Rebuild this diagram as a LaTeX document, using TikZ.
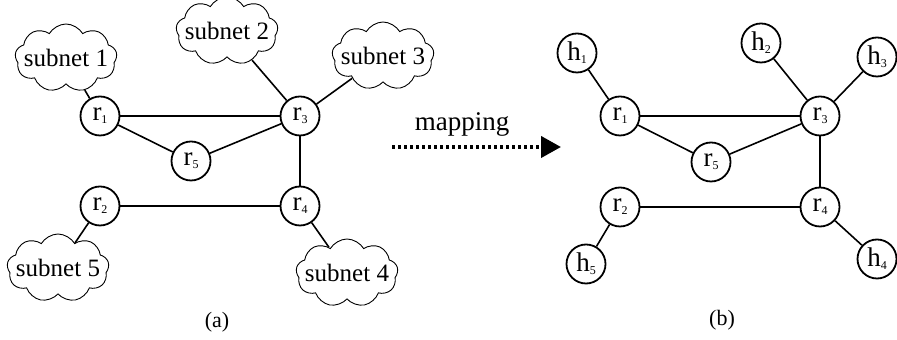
\documentclass[tikz,border=0pt]{standalone}
\usepackage{fontspec}
\setmainfont{Liberation Serif}
\usetikzlibrary{shapes.symbols,arrows.meta}

\newcommand{\lbl}[2]{#1{\fontsize{6}{6}\selectfont\raisebox{-0.5ex}{#2}}}
\newcommand{\cloudtext}[1]{\makebox[0pt]{#1}}

\tikzset{
  router/.style={circle, draw, line width=0.9pt, minimum size=19.5pt, inner sep=0pt,
    font=\fontsize{13.5}{13.5}\selectfont},
  subnetcloud/.style={cloud, draw, line width=0.45pt, cloud puffs=9, cloud puff arc=120,
    cloud ignores aspect, minimum width=51pt, minimum height=34pt, inner sep=0pt,
    font=\fontsize{12.5}{12.5}\selectfont},
  link/.style={line width=0.8pt},
  caption/.style={font=\fontsize{11}{11}\selectfont},
  maparrow/.style={line width=2pt, dash pattern=on 1.7pt off 1.3pt,
    -{Triangle[length=10pt,width=10.5pt]}}
}

\begin{document}
\begin{tikzpicture}[x=0.5pt,y=-0.5pt]
\useasboundingbox (0,0) rectangle (897,340);

% ---- (a) routers with attached subnets ----
\node[router] (ar1) at (100,116) {\lbl{r}{1}};
\node[router] (ar3) at (300,116) {\lbl{r}{3}};
\node[router] (ar5) at (191,161) {\lbl{r}{5}};
\node[router] (ar2) at (100,206) {\lbl{r}{2}};
\node[router] (ar4) at (300,206) {\lbl{r}{4}};

\node[subnetcloud] (s1) at (66,58) {\cloudtext{subnet 1}};
\node[subnetcloud] (s2) at (227,31) {\cloudtext{subnet 2}};
\node[subnetcloud] (s3) at (383,56) {\cloudtext{subnet 3}};
\node[subnetcloud] (s5) at (58,268) {\cloudtext{subnet 5}};
\node[subnetcloud] (s4) at (347,273) {\cloudtext{subnet 4}};

\draw[link] (ar1) -- (ar3);
\draw[link] (ar1) -- (ar5);
\draw[link] (ar5) -- (ar3);
\draw[link] (ar3) -- (ar4);
\draw[link] (ar2) -- (ar4);
\draw[link] (s1) -- (ar1);
\draw[link] (s2) -- (ar3);
\draw[link] (s3) -- (ar3);
\draw[link] (s5) -- (ar2);
\draw[link] (s4) -- (ar4);

\node[caption] (capa) at (217,322) {(a)};

% ---- mapping arrow ----
\node[font=\fontsize{13.5}{13.5}\selectfont] (maptxt) at (462,124) {mapping};
\coordinate (mapfrom) at (392,147);
\coordinate (mapto) at (561,147);
\draw[maparrow] (mapfrom) -- (mapto);

% ---- (b) routers with hosts ----
\node[router] (br1) at (620,116) {\lbl{r}{1}};
\node[router] (br3) at (820,116) {\lbl{r}{3}};
\node[router] (br5) at (711,162) {\lbl{r}{5}};
\node[router] (br2) at (620,207) {\lbl{r}{2}};
\node[router] (br4) at (820,207) {\lbl{r}{4}};

\node[router] (h1) at (577,53) {\lbl{h}{1}};
\node[router] (h2) at (761,43) {\lbl{h}{2}};
\node[router] (h3) at (877,57) {\lbl{h}{3}};
\node[router] (h5) at (586,264) {\lbl{h}{5}};
\node[router] (h4) at (877,259) {\lbl{h}{4}};

\draw[link] (br1) -- (br3);
\draw[link] (br1) -- (br5);
\draw[link] (br5) -- (br3);
\draw[link] (br3) -- (br4);
\draw[link] (br2) -- (br4);
\draw[link] (h1) -- (br1);
\draw[link] (h2) -- (br3);
\draw[link] (h3) -- (br3);
\draw[link] (h5) -- (br2);
\draw[link] (h4) -- (br4);

\node[caption] (capb) at (722,320) {(b)};
\end{tikzpicture}
\end{document}
